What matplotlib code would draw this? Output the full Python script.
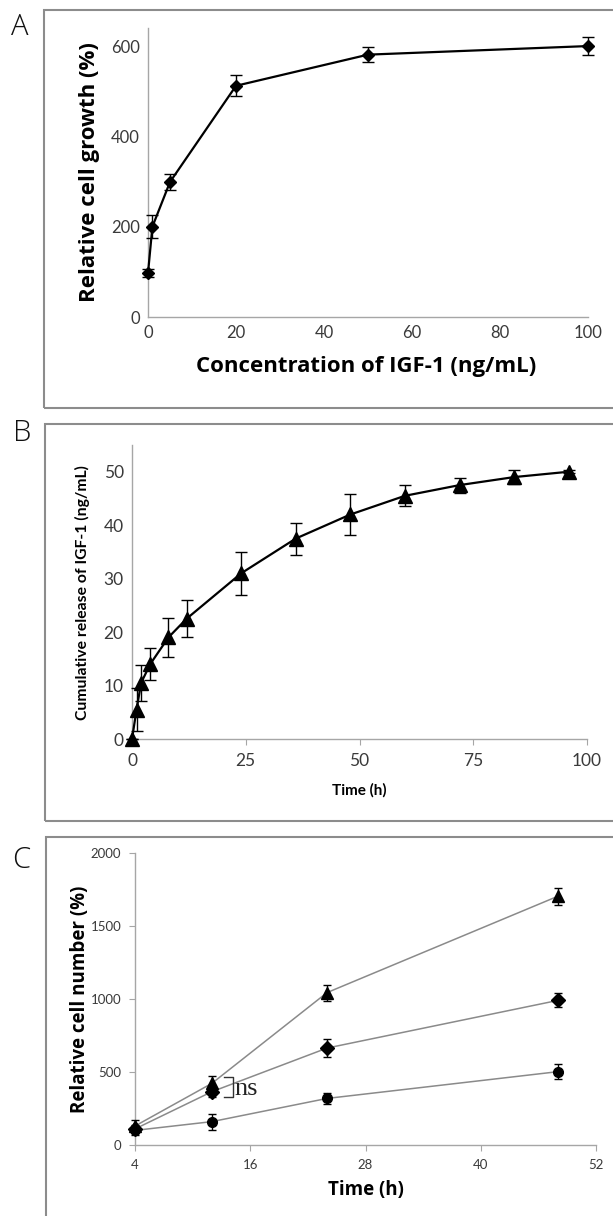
import matplotlib
matplotlib.use("Agg")
import matplotlib.pyplot as plt
from matplotlib.patches import Rectangle

# ---------------- data ----------------
# Panel A
conc_igf1 = [0, 1, 5, 20, 50, 100]
growth = [97, 200, 299, 512, 581, 600]
growth_err = [9, 26, 18, 23, 16, 20]

# Panel B
release_time = [0, 1, 2, 4, 8, 12, 24, 36, 48, 60, 72, 84, 96]
release = [0, 5.5, 10.5, 14, 19, 22.5, 31, 37.5, 42, 45.5, 47.5, 49, 50]
release_err = [0, 4, 3.3, 3, 3.7, 3.5, 4, 3, 3.8, 2, 1.4, 1.3, 0.3]

# Panel C
c_time = [4, 12, 24, 48]
c_tri = [130, 422, 1044, 1703]
c_tri_err = [40, 50, 55, 60]
c_dia = [110, 365, 664, 990]
c_dia_err = [30, 35, 62, 48]
c_cir = [100, 160, 319, 502]
c_cir_err = [30, 55, 40, 52]

A_yticks = [0, 200, 400, 600]
A_xticks = [0, 20, 40, 60, 80, 100]
B_yticks = [0, 10, 20, 30, 40, 50]
B_xticks = [0, 25, 50, 75, 100]
C_yticks = [0, 500, 1000, 1500, 2000]
C_xticks = [4, 16, 28, 40, 52]

W, H = 613, 1216
fig = plt.figure(figsize=(W / 100, H / 100), dpi=100)

TICK_FONT = "Lato"
TICK_COLOR = "#3a3a3a"
SPINE_COLOR = "#a6a6a6"


def ax_px(left, right, top, bottom):
    return fig.add_axes([left / W, 1 - bottom / H, (right - left) / W, (bottom - top) / H])


def box(x0, y0, x1, y1):
    fig.add_artist(Rectangle((x0 / W, 1 - y1 / H), (x1 - x0) / W, (y1 - y0) / H,
                             transform=fig.transFigure, fill=False,
                             edgecolor="#8c8c8c", linewidth=1.5, clip_on=False))


def style(ax, fs, tick_len_x=0, tick_len_y=0):
    for s in ["top", "right"]:
        ax.spines[s].set_visible(False)
    for s in ["left", "bottom"]:
        ax.spines[s].set_color(SPINE_COLOR)
        ax.spines[s].set_linewidth(1.0)
    ax.tick_params(axis="x", length=tick_len_x, color=SPINE_COLOR, labelsize=fs,
                   labelcolor=TICK_COLOR, pad=6, direction="out")
    ax.tick_params(axis="y", length=tick_len_y, color=SPINE_COLOR, labelsize=fs,
                   labelcolor=TICK_COLOR, pad=6, direction="out")
    for lab in ax.get_xticklabels() + ax.get_yticklabels():
        lab.set_family(TICK_FONT)


# panel frames
box(44, 10, 640, 408)
box(45, 424, 640, 821)
box(46, 837, 640, 1240)

for letter, (x, y) in zip(["A", "B", "C"], [(20, 27), (22, 433), (21, 860)]):
    fig.text(x / W, 1 - y / H, letter, fontsize=21, family="Open Sans",
             fontweight="light", ha="center", va="center", color="#111111")

# ---------------- Panel A ----------------
axA = ax_px(148, 588, 28, 317)
axA.errorbar(conc_igf1, growth, yerr=growth_err, color="black", lw=1.6,
             marker="D", ms=6, ecolor="black", elinewidth=1, capsize=4,
             capthick=1, clip_on=False, zorder=3)
axA.set_xlim(0, 100)
axA.set_ylim(0, 640)
axA.set_xticks(A_xticks)
axA.set_yticks(A_yticks)
style(axA, 12)
fig.text(90 / W, 1 - 172 / H, "Relative cell growth (%)", rotation=90,
         fontsize=16, fontweight="bold", family="Open Sans", ha="center", va="center")
fig.text(366 / W, 1 - 367 / H, "Concentration of IGF-1 (ng/mL)",
         fontsize=16, fontweight="bold", family="Open Sans", ha="center", va="center")

# ---------------- Panel B ----------------
axB = ax_px(132, 587, 445, 739)
axB.errorbar(release_time, release, yerr=release_err, color="black", lw=1.6,
             marker="^", ms=10, ecolor="black", elinewidth=1, capsize=4,
             capthick=1, clip_on=False, zorder=3)
axB.set_xlim(0, 100)
axB.set_ylim(0, 55)
axB.set_xticks(B_xticks)
axB.set_yticks(B_yticks)
style(axB, 12.5, tick_len_x=4)
fig.text(82 / W, 1 - 593 / H, "Cumulative release of IGF-1 (ng/mL)", rotation=90,
         fontsize=11.3, fontweight="bold", family="Lato", ha="center", va="center")
fig.text(359 / W, 1 - 790 / H, "Time (h)",
         fontsize=11, fontweight="bold", family="Lato", ha="center", va="center")

# ---------------- Panel C ----------------
axC = ax_px(135, 596, 853, 1145)
line_kw = dict(color="#8a8a8a", lw=1.1, zorder=2, clip_on=False)
err_kw = dict(fmt="none", ecolor="black", elinewidth=1, capsize=3, capthick=1,
              zorder=3, clip_on=False)
for vals, errs, mk, ms in [(c_tri, c_tri_err, "^", 9),
                           (c_dia, c_dia_err, "D", 7),
                           (c_cir, c_cir_err, "o", 7)]:
    axC.plot(c_time, vals, **line_kw)
    axC.errorbar(c_time, vals, yerr=errs, **err_kw)
    axC.plot(c_time, vals, linestyle="none", marker=mk, ms=ms, color="black",
             zorder=4, clip_on=False)
axC.set_xlim(4, 52)
axC.set_ylim(0, 2000)
axC.set_xticks(C_xticks)
axC.set_yticks(C_yticks)
style(axC, 9.5, tick_len_x=4, tick_len_y=4)
# ns bracket
axC.plot([13.27, 14.17, 14.17, 13.27], [463, 463, 331, 331], color="#333333", lw=1.0,
         zorder=5)
axC.text(14.4, 385, "ns", family="Liberation Serif", fontsize=19, ha="left",
         va="center", color="#222222")
fig.text(80 / W, 1 - 999 / H, "Relative cell number (%)", rotation=90,
         fontsize=13.5, fontweight="bold", family="Open Sans", ha="center", va="center")
fig.text(366 / W, 1 - 1190 / H, "Time (h)",
         fontsize=13.5, fontweight="bold", family="Open Sans", ha="center", va="center")

fig.savefig("out.png", dpi=100)
